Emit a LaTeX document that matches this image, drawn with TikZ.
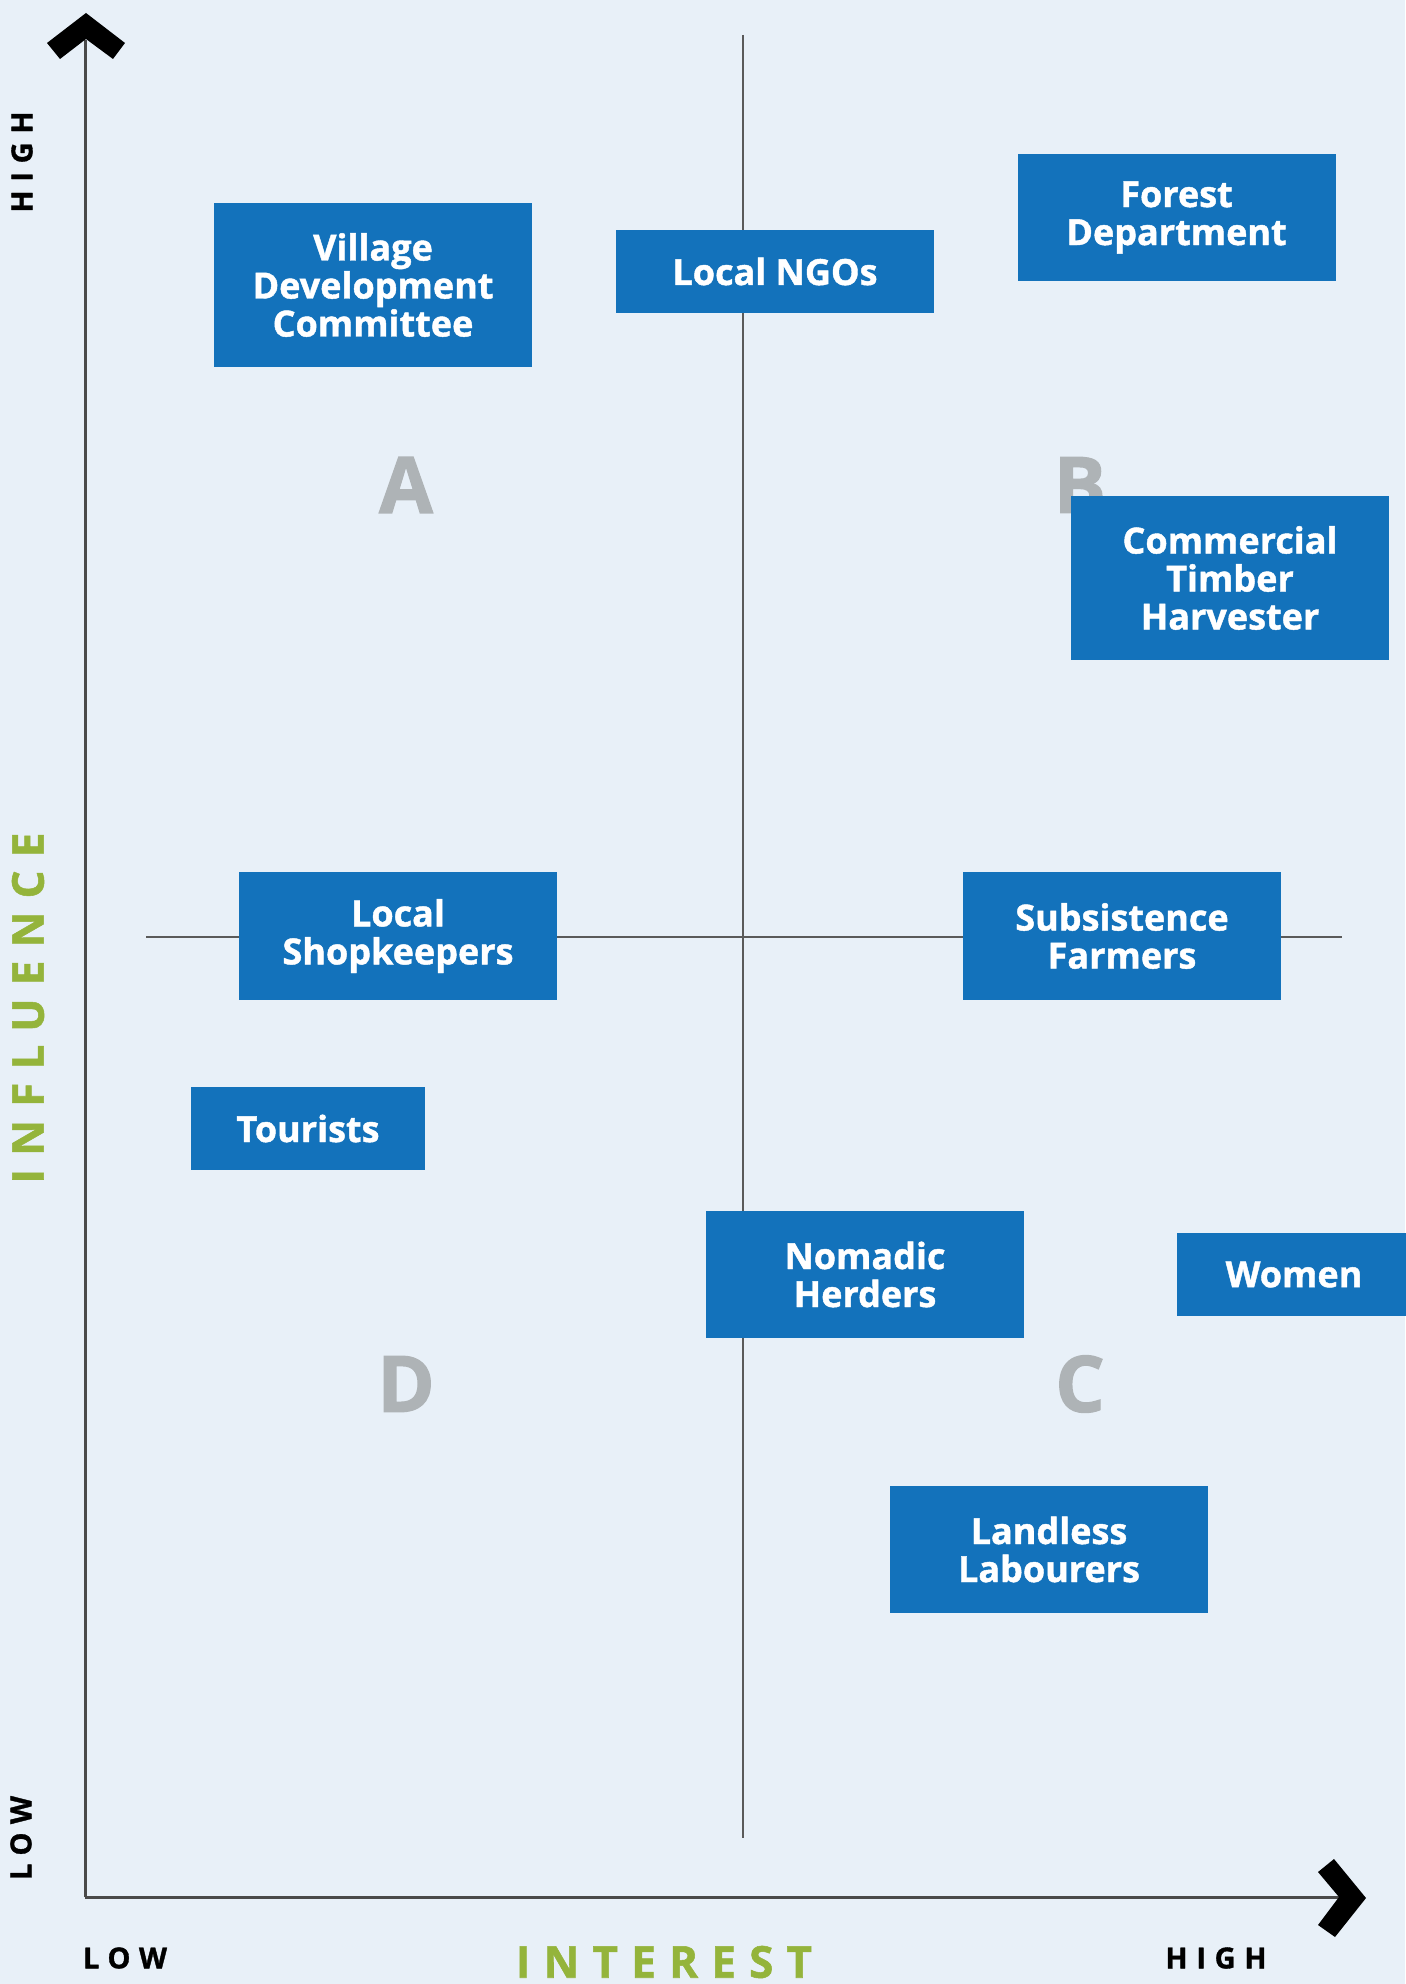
\documentclass[tikz,border=0pt]{standalone}
\usepackage{fontspec}
\setmainfont{Open Sans}
\usetikzlibrary{positioning}
\definecolor{bgc}{HTML}{E8F0F8}
\definecolor{boxblue}{HTML}{1372BB}
\definecolor{quadgray}{HTML}{AEB3B6}
\definecolor{axgreen}{HTML}{94B43B}
\definecolor{axline}{HTML}{4A4A4A}
\definecolor{midline}{HTML}{5A5A5A}
\newfontfamily\boxfont{Open Sans Bold}[FakeBold=1.2]
\newfontfamily\quadfont{Open Sans Bold}[FakeBold=1.5]
\newfontfamily\spacedfont{Open Sans Bold}[LetterSpace=30,FakeBold=1.2]
\tikzset{
  stake/.style={fill=boxblue, text=white, font=\boxfont\fontsize{18}{19}\selectfont,
    align=center, inner sep=0pt, minimum width=159pt},
  quad/.style={text=quadgray, font=\quadfont\fontsize{39}{40}\selectfont, inner sep=0pt},
  axlab/.style={text=black, font=\spacedfont\fontsize{14.5}{16}\selectfont, inner sep=0pt},
  axtitle/.style={text=axgreen, font=\spacedfont\fontsize{22}{24}\selectfont, inner sep=0pt},
}
\begin{document}
\begin{tikzpicture}[x=0.5pt,y=-0.5pt]
\fill[bgc] (0,0) rectangle (1405,1984);
\useasboundingbox (0,0) rectangle (1405,1984);
% quadrant lines
\coordinate (vt) at (743,35);
\coordinate (vb) at (743,1838);
\coordinate (hl) at (146,937);
\coordinate (hr) at (1342,937);
\draw[midline, line width=0.75pt] (vt) -- (vb);
\draw[midline, line width=0.75pt] (hl) -- (hr);
% quadrant letters
\node[quad] (qA) at (406,485) {A};
\node[quad] (qB) at (1080,485) {B};
\node[quad] (qD) at (406,1384) {D};
\node[quad] (qC) at (1080,1384) {C};
% stakeholders
\node[stake, minimum height=82pt] (vdc) at (373,285) {Village\\Development\\Committee};
\node[stake, minimum height=41.5pt] (ngo) at (775,271.5) {Local NGOs};
\node[stake, minimum height=63.5pt] (fd) at (1176.5,217.5) {Forest\\Department};
\node[stake, minimum height=82pt] (cth) at (1230,578) {Commercial\\Timber\\Harvester};
\node[stake, minimum height=64pt] (ls) at (398,936) {Local\\Shopkeepers};
\node[stake, minimum height=64pt] (sf) at (1122,936) {Subsistence\\Farmers};
\node[stake, minimum height=41.5pt, minimum width=117pt] (tour) at (308,1128.5) {Tourists};
\node[stake, minimum height=63.5pt] (nh) at (865,1274.5) {Nomadic\\Herders};
\node[stake, minimum height=41.5pt, minimum width=117pt] (wom) at (1294,1274.5) {Women};
\node[stake, minimum height=63.5pt] (ll) at (1049,1549.5) {Landless\\Labourers};
% axes
\coordinate (orig) at (85,1897);
\coordinate (ytop) at (85,40);
\coordinate (xend) at (1345,1897);
\draw[axline, line width=1.5pt] (orig) -- (ytop);
\draw[axline, line width=1.5pt] (orig) -- (xend);
\fill[black] (86,13) -- (125,43) -- (113,59) -- (86,39) -- (60,59) -- (47,43) -- cycle;
\fill[black] (1366,1898) -- (1334,1859) -- (1318,1872) -- (1339,1897) -- (1318,1925) -- (1335,1937) -- cycle;
% axis labels
\node[axlab, rotate=90] (yhigh) at (22,162) {HIGH};
\node[axlab, rotate=90] (ylow) at (21,1838) {LOW};
\node[axtitle, rotate=90] (ytitle) at (28,1008) {INFLUENCE};
\node[axlab] (xlow) at (125,1958) {LOW};
\node[axlab] (xhigh) at (1216,1958) {HIGH};
\node[axtitle] (xtitle) at (664,1962) {INTEREST};
\end{tikzpicture}
\end{document}
